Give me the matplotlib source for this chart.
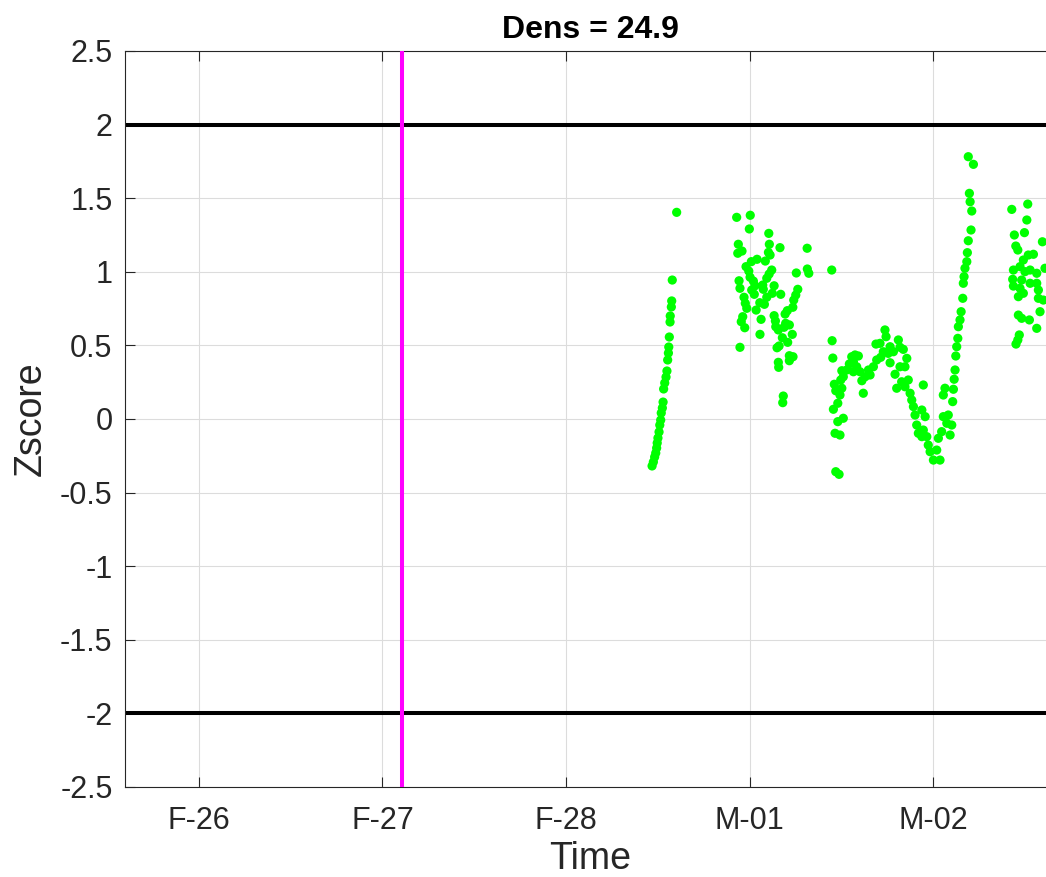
"""Zscore of density over time, with +/-2 threshold lines and an event marker."""

import matplotlib.pyplot as plt

plt.rcParams["font.family"] = ["Liberation Sans", "DejaVu Sans"]

# days since F-26 00:00
tick_days = [0, 1, 2, 3, 4]
tick_labels = ["F-26", "F-27", "F-28", "M-01", "M-02"]
y_ticks = [-2.5, -2, -1.5, -1, -0.5, 0, 0.5, 1, 1.5, 2, 2.5]
y_tick_labels = ["-2.5", "-2", "-1.5", "-1", "-0.5", "0", "0.5", "1", "1.5", "2", "2.5"]

event_day = 1.109
threshold = 2.0
title_text = "Dens = 24.9"

# first ramp (late F-28)
ramp_day = [2.603, 2.579, 2.576, 2.574, 2.568, 2.567, 2.563, 2.560, 2.558, 2.554,
            2.550, 2.545, 2.538, 2.532, 2.529, 2.525, 2.519, 2.516, 2.511, 2.507,
            2.501, 2.497, 2.494, 2.489, 2.483, 2.476, 2.469]
ramp_z = [1.404, 0.944, 0.802, 0.761, 0.700, 0.659, 0.557, 0.489, 0.448, 0.401,
          0.326, 0.285, 0.245, 0.204, 0.115, 0.075, 0.041, -0.007, -0.041, -0.088,
          -0.129, -0.163, -0.197, -0.231, -0.258, -0.292, -0.319]

# cluster around M-01
m01_day = [2.930, 3.004, 2.999, 3.105, 2.939, 3.108, 3.166, 3.314, 2.959, 2.936,
           3.103, 3.112, 3.041, 3.010, 3.086, 2.981, 2.996, 3.121, 3.107, 3.255,
           3.315, 3.323, 3.003, 2.943, 3.021, 3.094, 3.030, 3.072, 3.134, 2.948,
           3.012, 3.075, 3.263, 3.026, 3.124, 3.170, 2.970, 3.094, 3.252, 3.241,
           2.977, 3.056, 3.081, 2.985, 3.036, 3.236, 3.206, 3.194, 3.134, 2.963,
           3.063, 2.955, 3.141, 3.197, 3.217, 2.974, 3.143, 3.188, 3.157, 3.057,
           3.233, 3.179, 3.208, 3.161, 2.948, 3.150, 3.217, 3.237, 3.217, 3.157,
           3.159, 3.184, 3.181]
m01_z = [1.370, 1.384, 1.291, 1.261, 1.187, 1.187, 1.164, 1.160, 1.141, 1.126,
         1.132, 1.114, 1.085, 1.069, 1.073, 1.035, 1.005, 1.012, 0.985, 0.992,
         1.019, 0.990, 0.963, 0.939, 0.937, 0.956, 0.905, 0.910, 0.905, 0.888,
         0.876, 0.881, 0.881, 0.847, 0.854, 0.847, 0.827, 0.827, 0.842, 0.808,
         0.786, 0.790, 0.779, 0.752, 0.740, 0.759, 0.736, 0.713, 0.702, 0.695,
         0.677, 0.661, 0.666, 0.650, 0.639, 0.620, 0.627, 0.623, 0.605, 0.575,
         0.575, 0.552, 0.521, 0.496, 0.487, 0.484, 0.430, 0.423, 0.396, 0.385,
         0.351, 0.156, 0.111]

# hump, trough and second ramp (M-01 to M-02)
m02_day = [3.448, 3.450, 3.454, 3.462, 3.470, 3.457, 3.481, 3.481, 3.511, 3.466,
           3.493, 3.470, 3.488, 3.493, 3.503, 3.497, 3.511, 3.503, 3.530, 3.544,
           3.557, 3.575, 3.593, 3.566, 3.584, 3.566, 3.602, 3.612, 3.620, 3.630,
           3.657, 3.648, 3.675, 3.693, 3.715, 3.689, 3.711, 3.738, 3.744, 3.729,
           3.756, 3.766, 3.784, 3.766, 3.811, 3.820, 3.838, 3.857, 3.847, 3.820,
           3.793, 3.802, 3.829, 3.847, 3.865, 3.875, 3.884, 3.893, 3.902, 3.911,
           3.920, 3.939, 3.947, 3.957, 3.947, 3.966, 3.939, 3.974, 3.984, 4.002,
           4.020, 4.038, 4.029, 4.047, 4.056, 4.083, 4.075, 4.093, 4.102, 4.056,
           4.065, 4.111, 4.107, 4.115, 4.120, 4.124, 4.129, 4.135, 4.138, 4.147,
           4.153, 4.162, 4.165, 4.169, 4.174, 4.184, 4.187, 4.192, 4.207, 4.211,
           4.202, 4.198, 4.220, 4.192]
m02_z = [1.012, 0.532, 0.414, 0.236, 0.192, 0.066, 0.107, -0.018, 0.005, -0.097,
         -0.109, -0.358, -0.376, 0.163, 0.209, 0.265, 0.287, 0.328, 0.333, 0.374,
         0.423, 0.435, 0.428, 0.389, 0.355, 0.321, 0.321, 0.260, 0.175, 0.287,
         0.299, 0.333, 0.355, 0.401, 0.419, 0.509, 0.514, 0.605, 0.559, 0.457,
         0.446, 0.491, 0.457, 0.382, 0.537, 0.487, 0.473, 0.412, 0.355, 0.355,
         0.304, 0.209, 0.253, 0.219, 0.265, 0.175, 0.129, 0.084, 0.027, -0.041,
         -0.097, 0.061, 0.231, 0.016, -0.075, -0.120, -0.120, -0.177, -0.222, -0.279,
         -0.211, -0.279, -0.131, -0.086, 0.016, 0.027, -0.029, -0.109, -0.041, 0.163,
         0.209, 0.202, 0.118, 0.270, 0.333, 0.428, 0.491, 0.548, 0.627, 0.673,
         0.729, 0.820, 0.922, 0.967, 1.024, 1.069, 1.130, 1.211, 1.284, 1.413,
         1.476, 1.533, 1.730, 1.782]

# cluster after M-02
late_day = [4.429, 4.516, 4.511, 4.443, 4.498, 4.596, 4.451, 4.462, 4.519, 4.547,
            4.492, 4.474, 4.438, 4.501, 4.529, 4.565, 4.610, 4.434, 4.483, 4.529,
            4.565, 4.438, 4.474, 4.574, 4.492, 4.465, 4.574, 4.601, 4.583, 4.465,
            4.483, 4.525, 4.565, 4.470, 4.462, 4.452]
late_z = [1.424, 1.460, 1.352, 1.250, 1.266, 1.204, 1.175, 1.148, 1.114, 1.119,
          1.080, 1.035, 1.012, 1.001, 1.012, 0.990, 1.024, 0.949, 0.944, 0.922,
          0.922, 0.903, 0.888, 0.876, 0.854, 0.831, 0.820, 0.808, 0.729, 0.706,
          0.684, 0.673, 0.616, 0.571, 0.537, 0.509]

fig = plt.figure(figsize=(10.46, 8.77), dpi=100)
# axes runs slightly past the right edge of the figure, like the cropped original
ax = fig.add_axes([125 / 1046, 90 / 877, 931 / 1046, 736 / 877])

ax.axhline(threshold, color="black", lw=2.9, zorder=2)
ax.axhline(-threshold, color="black", lw=2.9, zorder=2)
ax.axvline(event_day, color="#ff00ff", lw=2.9, zorder=3)

for days, zs in [(ramp_day, ramp_z), (m01_day, m01_z), (m02_day, m02_z), (late_day, late_z)]:
    ax.scatter(days, zs, s=44, color="#00ff00", edgecolors="none", zorder=4)

ax.set_xlim(-0.403, 4.670)
ax.set_ylim(-2.5, 2.5)
ax.set_xticks(tick_days)
ax.set_xticklabels(tick_labels)
ax.set_yticks(y_ticks)
ax.set_yticklabels(y_tick_labels)

ax.grid(True, color="#dcdcdc", lw=0.8, zorder=0)
ax.set_axisbelow(True)
ax.tick_params(direction="in", length=7, width=0.8, colors="#262626",
               labelsize=22, top=True, right=True)
ax.tick_params(axis="x", pad=14)
ax.tick_params(axis="y", pad=9)
for spine in ax.spines.values():
    spine.set_color("#262626")
    spine.set_linewidth(0.8)

ax.set_title(title_text, fontsize=23, fontweight="bold", pad=9)
ax.set_xlabel("Time", fontsize=27, color="#262626", labelpad=3)
ax.set_ylabel("Zscore", fontsize=27, color="#262626", labelpad=8)

fig.savefig("out.png", dpi=100)
